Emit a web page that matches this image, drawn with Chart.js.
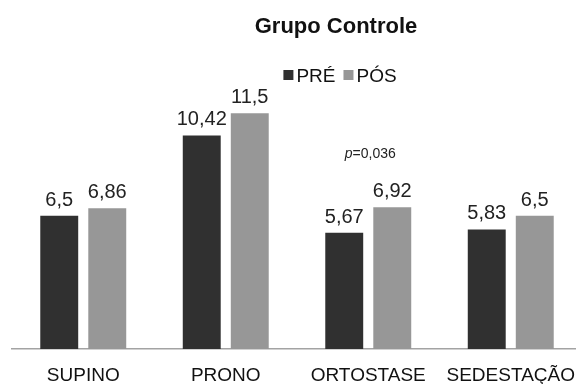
<!DOCTYPE html>
<html>
<head>
<meta charset="utf-8">
<script src="https://cdn.jsdelivr.net/npm/chart.js@4.4.1/dist/chart.umd.min.js"></script>
<style>
  html, body { margin: 0; padding: 0; background: #fff; overflow: hidden; }
  #wrap { width: 584px; height: 384px; }
</style>
</head>
<body>
<div id="wrap"><canvas id="myChart" width="584" height="384"></canvas></div>
<script>
const titleText = 'Grupo Controle';
const categories = ['SUPINO', 'PRONO', 'ORTOSTASE', 'SEDESTAÇÃO'];
const preValues = [6.5, 10.42, 5.67, 5.83];
const posValues = [6.86, 11.5, 6.92, 6.5];
const seriesNames = ['PRÉ', 'PÓS'];
const pNotes = ['', '', '0,036', ''];

const fmt = v => String(v).replace('.', ',');

// value labels above bars + p-value note
const valueLabels = {
    id: 'valueLabels',
    afterDatasetsDraw(chart) {
        const ctx = chart.ctx;
        ctx.save();
        ctx.fillStyle = '#222';
        ctx.font = '20px "Liberation Sans", Arial, sans-serif';
        ctx.textAlign = 'center';
        ctx.textBaseline = 'alphabetic';
        chart.data.datasets.forEach((ds, i) => {
            chart.getDatasetMeta(i).data.forEach((bar, j) => {
                ctx.fillText(fmt(ds.data[j]), bar.x, bar.y - 10);
            });
        });
        // p-value
        const xs = chart.scales.x;
        pNotes.forEach((p, j) => {
            if (!p) return;
            const top = Math.min(...chart.data.datasets.map((ds, i) => chart.getDatasetMeta(i).data[j].y));
            const y = top - 49;
            const rest = '=' + p;
            ctx.font = 'italic 14px "Liberation Sans", Arial, sans-serif';
            const wp = ctx.measureText('p').width;
            ctx.font = '14px "Liberation Sans", Arial, sans-serif';
            const wr = ctx.measureText(rest).width;
            const x0 = xs.getPixelForValue(j) + 2 - (wp + wr) / 2;
            ctx.textAlign = 'left';
            ctx.font = 'italic 14px "Liberation Sans", Arial, sans-serif';
            ctx.fillText('p', x0, y);
            ctx.font = '14px "Liberation Sans", Arial, sans-serif';
            ctx.fillText(rest, x0 + wp, y);
        });
        ctx.restore();
    }
};

// title and legend, centred a bit right of the canvas middle like the original
const header = {
    id: 'header',
    afterDraw(chart) {
        const ctx = chart.ctx;
        ctx.save();
        ctx.fillStyle = '#111';
        ctx.textBaseline = 'alphabetic';
        ctx.textAlign = 'center';
        ctx.font = 'bold 22px "Liberation Sans", Arial, sans-serif';
        ctx.fillText(titleText, 336, 33);

        ctx.font = '19px "Liberation Sans", Arial, sans-serif';
        const box = 10, gap = 3, between = 8;
        const items = chart.data.datasets.map(ds => ({ text: ds.label, color: ds.backgroundColor, w: ctx.measureText(ds.label).width }));
        const total = items.reduce((s, it) => s + box + gap + it.w, 0) + between * (items.length - 1);
        let x = 340 - total / 2;
        ctx.textAlign = 'left';
        items.forEach(it => {
            ctx.fillStyle = it.color;
            ctx.fillRect(x, 70, box, box);
            x += box + gap;
            ctx.fillStyle = '#111';
            ctx.fillText(it.text, x, 82);
            x += it.w + between;
        });
        ctx.restore();
    }
};

new Chart(document.getElementById('myChart'), {
    type: 'bar',
    data: {
        labels: categories,
        datasets: [
            { label: seriesNames[0], data: preValues, backgroundColor: '#303030', categoryPercentage: 0.674, barPercentage: 0.79 },
            { label: seriesNames[1], data: posValues, backgroundColor: '#979797', categoryPercentage: 0.674, barPercentage: 0.79 }
        ]
    },
    options: {
        responsive: false,
        animation: false,
        layout: { padding: { top: 103, left: 12, right: 2, bottom: 0 } },
        plugins: {
            legend: { display: false },
            title: { display: false },
            tooltip: { enabled: false }
        },
        scales: {
            y: { display: false, min: 0, max: 12 },
            x: {
                grid: { display: false, drawTicks: false },
                border: { display: true, color: '#a3a3a3', width: 1.5 },
                afterFit(scale) {
                    scale.paddingLeft = 0;
                    scale.paddingRight = 0;
                    scale.height = 35;
                },
                ticks: {
                    color: '#111',
                    padding: 17,
                    maxRotation: 0,
                    minRotation: 0,
                    autoSkip: false,
                    font: { family: '"Liberation Sans", Arial, sans-serif', size: 19, lineHeight: 1 }
                }
            }
        }
    },
    plugins: [valueLabels, header]
});
</script>
</body>
</html>
